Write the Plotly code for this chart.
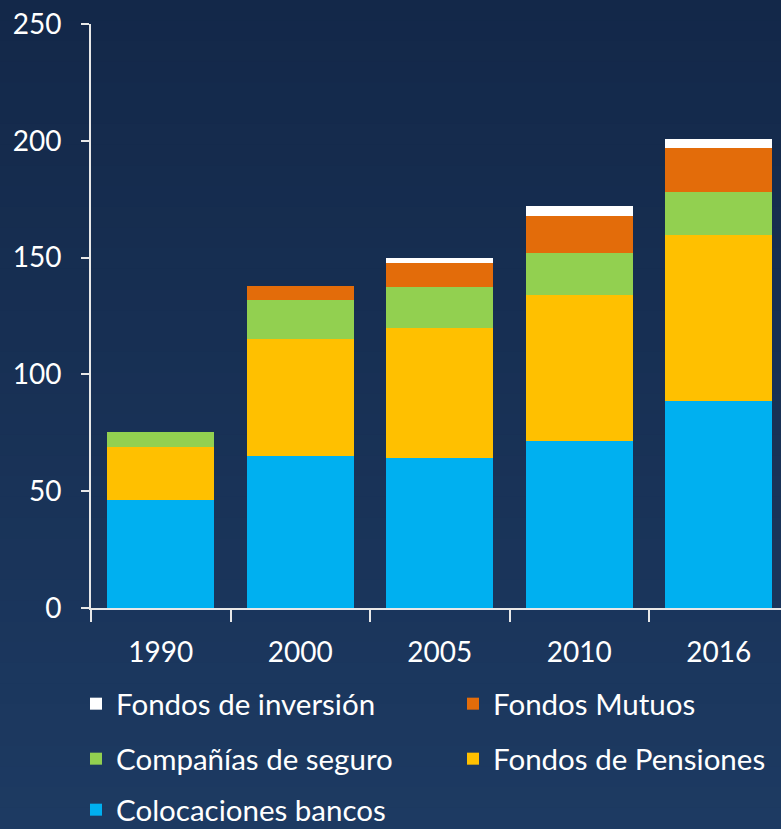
import plotly.graph_objects as go

years = ["1990", "2000", "2005", "2010", "2016"]
colocaciones_bancos = [46.2, 65.1, 64.2, 71.5, 88.6]
fondos_pensiones = [22.7, 50.1, 55.7, 62.4, 71.0]
companias_seguro = [6.4, 16.6, 17.5, 17.9, 18.5]
fondos_mutuos = [0.0, 6.0, 10.3, 16.0, 18.8]
fondos_inversion = [0.0, 0.0, 2.1, 4.3, 4.0]
y_ticks = [0, 50, 100, 150, 200, 250]

FONT = "Lato"
FS = 28
LFS = 29.5
W, H = 781, 829
ML, MR, MT, MB = 91, 0, 24, 221
PW = W - ML - MR
PH = H - MT - MB

# name, values, colour, legend id, legend position (px: item left, row centre)
series = [
    ("Colocaciones bancos", colocaciones_bancos, "#00b0f0", "legend5", (76, 810)),
    ("Fondos de Pensiones", fondos_pensiones, "#ffc000", "legend4", (453, 759)),
    ("Compañías de seguro", companias_seguro, "#92d050", "legend3", (76, 759)),
    ("Fondos Mutuos", fondos_mutuos, "#e36c0a", "legend2", (453, 704)),
    ("Fondos de inversión", fondos_inversion, "#ffffff", "legend", (76, 704)),
]

fig = go.Figure()
for name, vals, col, lg, _ in series:
    fig.add_trace(go.Bar(x=years, y=vals, name=name, marker=dict(color=col, line=dict(width=0)),
                         legend=lg))

# background gradient bands
shapes = []
n = 40
top = (19, 40, 73)
bot = (29, 58, 98)
for i in range(n):
    t = i / (n - 1)
    c = tuple(round(top[k] + (bot[k] - top[k]) * t) for k in range(3))
    shapes.append(dict(type="rect", xref="paper", yref="paper", layer="below",
                       x0=-ML / PW - 0.01, x1=1.01,
                       y1=1 + MT / PH - i * (H / PH) / n + 0.001,
                       y0=1 + MT / PH - (i + 1) * (H / PH) / n - 0.001,
                       fillcolor="rgb(%d,%d,%d)" % c, line=dict(width=0)))

def leg(xpix, ypix):
    return dict(orientation="h", x=(xpix - ML) / PW, xanchor="left",
                y=-(ypix - (MT + PH)) / PH, yanchor="middle",
                font=dict(family=FONT, size=LFS, color="white"),
                bgcolor="rgba(0,0,0,0)", itemclick=False, itemdoubleclick=False)

legends = {lg: leg(*pos) for _, _, _, lg, pos in series}

fig.update_layout(
    width=W, height=H,
    margin=dict(l=ML, r=MR, t=MT, b=MB, pad=0, autoexpand=False),
    barmode="stack", bargap=0.23,
    paper_bgcolor="#172f55", plot_bgcolor="rgba(0,0,0,0)",
    font=dict(family=FONT, size=FS, color="white"),
    shapes=shapes,
    showlegend=True,
    **legends,
    xaxis=dict(range=[-0.5, 4.446], showgrid=False, showline=True, linecolor="#e8e8e8",
               linewidth=2, ticks="outside", tickson="boundaries", ticklen=12,
               tickwidth=2, tickcolor="#e8e8e8", ticklabelstandoff=18, automargin=False,
               tickfont=dict(family=FONT, size=FS, color="white"), zeroline=False),
    yaxis=dict(range=[0, 250], tickvals=y_ticks, showgrid=False, showline=True,
               linecolor="#e8e8e8", linewidth=2, ticks="outside", ticklen=8,
               tickwidth=2, tickcolor="#e8e8e8", ticklabelstandoff=14, automargin=False,
               tickfont=dict(family=FONT, size=FS, color="white"), zeroline=False),
)
fig.write_html("out.html", config={"displayModeBar": False},
               post_script="document.body.style.margin='0';document.body.style.overflow='hidden';")
